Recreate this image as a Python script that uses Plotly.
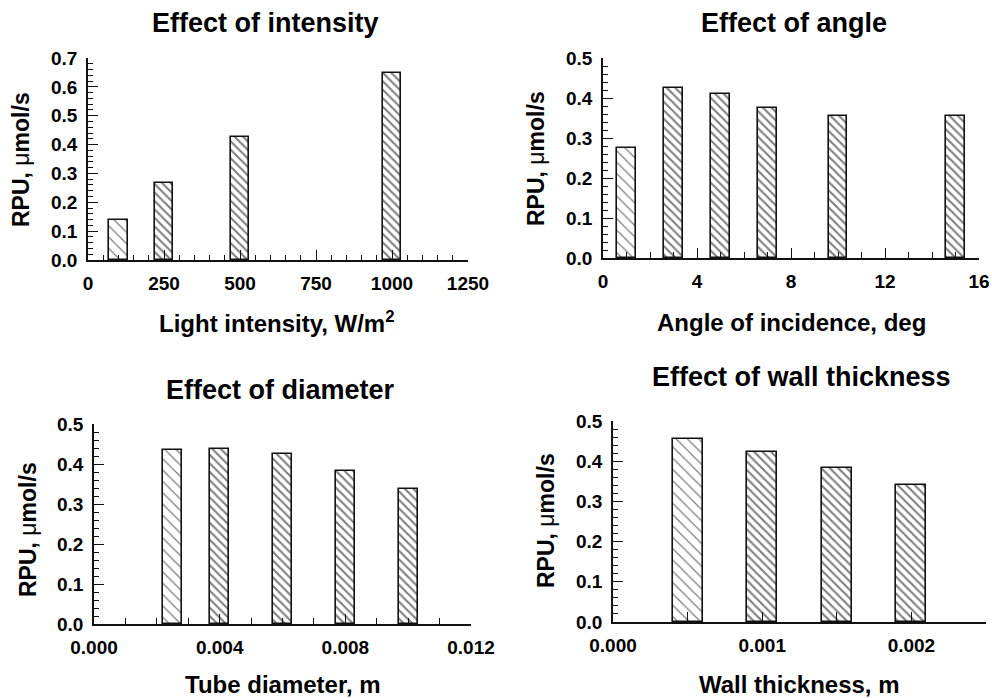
import plotly.graph_objects as go

# ---------------- data ----------------
intensity_x = [100, 250, 500, 1000]
intensity_y = [0.137, 0.266, 0.426, 0.648]

angle_x = [1, 3, 5, 7, 10, 15]
angle_y = [0.276, 0.424, 0.409, 0.376, 0.356, 0.354]

diameter_x = [0.0025, 0.004, 0.006, 0.008, 0.010]
diameter_y = [0.434, 0.437, 0.425, 0.382, 0.338]

wall_x = [0.0005, 0.001, 0.0015, 0.002]
wall_y = [0.456, 0.424, 0.382, 0.342]

titles = ["Effect of intensity", "Effect of angle", "Effect of diameter", "Effect of wall thickness"]
xtitles = ["Light intensity, W/m<sup>2</sup>", "Angle of incidence, deg", "Tube diameter, m", "Wall thickness, m"]
ytitle = "<b>RPU, </b>\u03bc<b>mol/s</b>"

W, H = 992, 698
FONT = "Liberation Sans, Arial, sans-serif"
INK = "#111111"

def px(x):
    return x / W

def py(y):
    return 1 - y / H

panels = [
    dict(x=intensity_x, y=intensity_y, width=60, xr=[0, 1250], yr=[0, 0.7],
         xdom=[88, 468], ydom=[260, 58], xtick=250, xminor=50, xminlen=5, fmt=None),
    dict(x=angle_x, y=angle_y, width=0.8, xr=[0, 16], yr=[0, 0.5],
         xdom=[603, 979], ydom=[258, 58], xtick=4, xminor=1, xminlen=6, fmt=None),
    dict(x=diameter_x, y=diameter_y, width=0.0006, xr=[0, 0.012], yr=[0, 0.5],
         xdom=[94, 471], ydom=[624, 424], xtick=0.004, xminor=0.001, xminlen=6, fmt=".3f"),
    dict(x=wall_x, y=wall_y, width=0.0002, xr=[0, 0.0025], yr=[0, 0.5],
         xdom=[613, 986], ydom=[622, 421], xtick=0.001, xminor=0.0005, xminlen=10, fmt=".3f"),
]

fig = go.Figure()
for i, p in enumerate(panels):
    n = i + 1
    xa = "x" if n == 1 else f"x{n}"
    ya = "y" if n == 1 else f"y{n}"
    k = len(p["x"])
    fig.add_trace(go.Bar(
        x=p["x"], y=p["y"], width=[p["width"]] * k,
        xaxis=xa, yaxis=ya, showlegend=False,
        marker=dict(
            color="white",
            line=dict(color=INK, width=1.6),
            pattern=dict(
                shape=["\\"] * k,
                size=[8] + [6] * (k - 1),
                solidity=[0.16] + [0.36] * (k - 1),
                fgcolor="black", bgcolor="white", fillmode="overlay",
            ),
        ),
    ))
    xkey = "xaxis" if n == 1 else f"xaxis{n}"
    ykey = "yaxis" if n == 1 else f"yaxis{n}"
    xaxis = dict(
        domain=[px(p["xdom"][0]), px(p["xdom"][1])], range=p["xr"], anchor=ya,
        showline=True, linecolor=INK, linewidth=1.5, showgrid=False, zeroline=False,
        ticks="inside", ticklen=10, tickwidth=1.2, tickcolor=INK, dtick=p["xtick"], tick0=0,
        minor=dict(dtick=p["xminor"], tick0=0, ticks="inside", ticklen=p["xminlen"],
                   tickwidth=1.2, tickcolor=INK, showgrid=False),
        tickfont=dict(family=FONT, size=19, color="black", weight="bold"),
        ticklabelstandoff=5, fixedrange=True, automargin=False,
    )
    if p["fmt"]:
        xaxis["tickformat"] = p["fmt"]
    yaxis = dict(
        domain=[py(p["ydom"][0]), py(p["ydom"][1])], range=p["yr"], anchor=xa,
        showline=True, linecolor=INK, linewidth=1.5, showgrid=False, zeroline=False,
        ticks="inside", ticklen=10, tickwidth=1.2, tickcolor=INK, dtick=0.1, tick0=0,
        tickformat=".1f",
        minor=dict(dtick=0.02, tick0=0, ticks="inside", ticklen=5, tickwidth=1.2,
                   tickcolor=INK, showgrid=False),
        tickfont=dict(family=FONT, size=19, color="black", weight="bold"),
        ticklabelstandoff=5, fixedrange=True, automargin=False,
    )
    fig.update_layout(**{xkey: xaxis, ykey: yaxis})

title_pos = [(265, 23), (794, 23), (280, 390), (801, 377)]
xtitle_pos = [(277, 322), (791, 322), (283, 684), (799, 684)]
ytitle_pos = [(21, 160), (536, 159), (28, 530), (546, 521)]

ann = []
for t, (x, y) in zip(titles, title_pos):
    ann.append(dict(text=f"<b>{t}</b>", x=px(x), y=py(y), xref="paper", yref="paper",
                    xanchor="center", yanchor="middle", showarrow=False,
                    font=dict(family=FONT, size=27, color="black")))
for t, (x, y) in zip(xtitles, xtitle_pos):
    ann.append(dict(text=f"<b>{t}</b>", x=px(x), y=py(y), xref="paper", yref="paper",
                    xanchor="center", yanchor="middle", showarrow=False,
                    font=dict(family=FONT, size=24, color="black")))
for (x, y) in ytitle_pos:
    ann.append(dict(text=ytitle, x=px(x), y=py(y), xref="paper", yref="paper",
                    xanchor="center", yanchor="middle", showarrow=False, textangle=-90,
                    font=dict(family=FONT, size=23, color="black")))

fig.update_layout(
    template="none",
    width=W, height=H, margin=dict(l=0, r=0, t=0, b=0, autoexpand=False),
    paper_bgcolor="white", plot_bgcolor="white",
    annotations=ann, bargap=0,
)

fig.write_html("out.html", config={"displayModeBar": False})
